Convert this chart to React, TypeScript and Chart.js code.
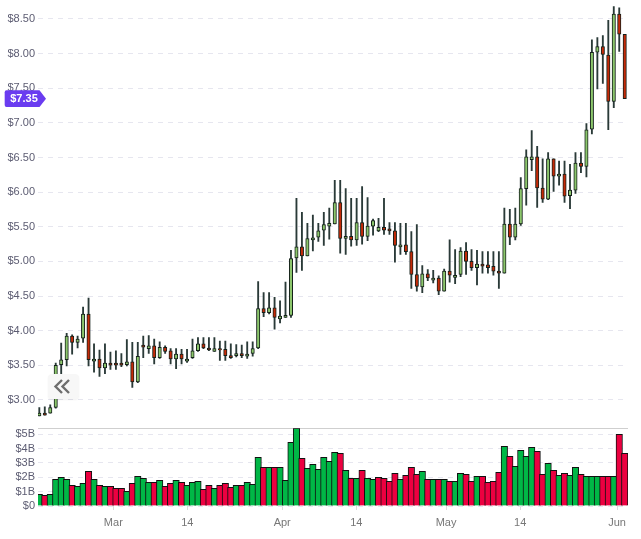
import React, { useEffect, useRef } from "react";
import { Chart, registerables } from "chart.js";

Chart.register(...registerables);

const candleOpen = [
  2.77, 2.81, 2.81, 2.89, 3.51, 3.58, 3.92, 3.83, 3.89, 4.24, 3.56, 3.59, 3.46, 3.53, 3.53, 3.53, 3.51, 3.55,
  3.26, 3.79, 3.74, 3.78, 3.61, 3.76, 3.71, 3.59, 3.66, 3.56, 3.61, 3.71, 3.81, 3.75, 3.70, 3.74, 3.73, 3.64,
  3.64, 3.67, 3.63, 3.67, 3.75, 4.32, 4.26, 4.33, 4.17, 4.19, 4.22, 5.05, 5.21, 5.08, 5.31, 5.35, 5.45, 5.51,
  5.54, 5.85, 5.33, 5.36, 5.31, 5.56, 5.36, 5.51, 5.44, 5.49, 5.47, 5.44, 5.21, 5.24, 5.14, 4.81, 4.63, 4.82,
  4.73, 4.76, 4.57, 4.86, 4.77, 4.81, 5.15, 5.0, 4.91, 4.96, 4.95, 4.93, 4.86, 4.83, 5.54, 5.35, 5.54, 6.05,
  6.47, 6.51, 6.06, 5.90, 6.48, 6.23, 6.26, 5.95, 6.03, 6.42, 6.37, 6.91, 8.02, 8.10, 7.98, 7.31, 8.57, 8.28,
];
const candleHigh = [
  2.89, 2.90, 2.93, 3.53, 3.82, 3.96, 3.94, 3.92, 4.34, 4.47, 3.81, 3.72, 3.81, 3.69, 3.71, 3.67, 3.87, 3.83,
  3.83, 3.92, 3.93, 3.88, 3.84, 3.78, 3.74, 3.74, 3.73, 3.73, 3.88, 3.90, 3.90, 3.90, 3.90, 3.85, 3.85, 3.81,
  3.80, 3.79, 3.84, 3.84, 4.71, 4.55, 4.55, 4.48, 4.43, 4.70, 5.16, 5.91, 5.71, 5.55, 5.67, 5.55, 5.71, 5.77,
  6.17, 6.17, 6.05, 5.91, 5.91, 6.08, 5.92, 5.61, 5.62, 5.91, 5.56, 5.56, 5.55, 5.55, 5.43, 5.53, 4.94, 4.88,
  4.87, 4.79, 4.89, 5.31, 5.17, 5.20, 5.27, 5.17, 5.16, 5.14, 5.14, 5.14, 5.14, 5.77, 5.75, 5.77, 6.21, 6.61,
  6.89, 6.66, 6.48, 6.57, 6.48, 6.45, 6.45, 6.40, 6.57, 6.57, 6.99, 8.20, 8.23, 8.26, 8.48, 8.68, 8.66, 8.28,
];
const candleLow = [
  2.77, 2.78, 2.81, 2.88, 3.38, 3.49, 3.66, 3.75, 3.83, 3.49, 3.40, 3.34, 3.38, 3.44, 3.44, 3.48, 3.49, 3.18,
  3.25, 3.61, 3.67, 3.52, 3.60, 3.67, 3.52, 3.45, 3.52, 3.54, 3.60, 3.70, 3.74, 3.71, 3.70, 3.57, 3.57, 3.60,
  3.62, 3.61, 3.60, 3.63, 3.74, 4.20, 4.24, 4.02, 4.11, 4.19, 4.19, 4.84, 4.87, 5.08, 5.15, 5.29, 5.23, 5.32,
  5.54, 5.12, 5.10, 5.22, 5.23, 5.25, 5.30, 5.38, 5.43, 5.39, 5.39, 4.99, 5.10, 5.10, 4.61, 4.57, 4.55, 4.72,
  4.69, 4.52, 4.57, 4.70, 4.68, 4.78, 4.81, 4.87, 4.66, 4.83, 4.83, 4.80, 4.61, 4.83, 5.24, 5.31, 5.52, 5.81,
  6.31, 5.78, 5.85, 5.89, 6.01, 6.10, 5.85, 5.76, 5.98, 6.28, 6.22, 6.84, 7.49, 7.57, 6.90, 7.22, 8.03, 7.35,
];
const candleClose = [
  2.81, 2.78, 2.89, 3.50, 3.58, 3.92, 3.83, 3.88, 4.24, 3.58, 3.59, 3.46, 3.53, 3.50, 3.50, 3.50, 3.55, 3.26,
  3.63, 3.76, 3.78, 3.61, 3.76, 3.70, 3.59, 3.66, 3.59, 3.59, 3.71, 3.81, 3.75, 3.72, 3.74, 3.72, 3.64, 3.61,
  3.67, 3.64, 3.66, 3.74, 4.32, 4.26, 4.33, 4.19, 4.21, 4.22, 5.04, 5.21, 5.08, 5.33, 5.34, 5.44, 5.53, 5.55,
  5.85, 5.33, 5.36, 5.31, 5.56, 5.36, 5.51, 5.59, 5.49, 5.45, 5.44, 5.23, 5.24, 5.14, 4.81, 4.64, 4.82, 4.76,
  4.76, 4.57, 4.86, 4.80, 4.80, 5.15, 5.0, 4.91, 4.96, 4.93, 4.91, 4.86, 4.83, 5.54, 5.35, 5.54, 6.05, 6.51,
  6.51, 6.06, 5.90, 6.48, 6.23, 6.26, 5.94, 6.03, 6.42, 6.37, 6.90, 8.02, 8.10, 7.99, 7.31, 8.57, 8.28, 7.35,
];
const volumes = [
  0.81, 0.74, 0.81, 1.86, 2.0, 1.86, 1.44, 1.37, 1.58, 2.42, 1.86, 1.44, 1.37, 1.37, 1.23, 1.23, 1.02, 1.58,
  2.07, 1.93, 1.65, 1.65, 1.79, 1.37, 1.58, 1.79, 1.65, 1.44, 1.65, 1.72, 1.16, 1.44, 1.23, 1.44, 1.58, 1.30,
  1.44, 1.44, 1.65, 1.51, 3.40, 2.70, 2.70, 2.70, 2.70, 1.79, 4.44, 5.42, 3.33, 2.63, 2.91, 2.56, 3.40, 3.12,
  3.74, 3.67, 2.49, 1.93, 1.93, 2.49, 1.93, 1.86, 2.0, 1.93, 1.72, 2.28, 1.86, 2.14, 2.70, 2.21, 2.42, 1.86,
  1.86, 1.86, 1.86, 1.72, 1.72, 2.28, 2.21, 1.72, 2.07, 2.07, 1.65, 1.72, 2.35, 4.16, 3.47, 2.77, 3.88, 3.47,
  4.09, 3.81, 2.21, 2.98, 2.49, 2.14, 2.28, 2.14, 2.70, 2.21, 2.07, 2.07, 2.07, 2.07, 2.07, 2.07, 5.0, 3.67,
];
const volumeUp = [
  1, 0, 1, 1, 1, 1, 0, 1, 1, 0, 1, 0, 1, 0, 0, 0, 1, 0,
  1, 1, 1, 0, 1, 0, 0, 1, 0, 1, 1, 1, 0, 0, 1, 0, 0, 0,
  1, 0, 1, 1, 1, 0, 1, 0, 1, 1, 1, 1, 0, 1, 1, 1, 1, 1,
  1, 0, 1, 0, 1, 0, 1, 1, 0, 0, 0, 0, 1, 0, 0, 0, 1, 0,
  1, 0, 1, 0, 1, 1, 0, 0, 1, 0, 0, 0, 0, 1, 0, 1, 1, 1,
  1, 0, 0, 1, 0, 1, 0, 1, 1, 0, 1, 1, 1, 0, 0, 1, 0, 0,
];
const xTickPositions = [13.53, 27.06, 44.4, 57.95, 74.35, 87.9, 105.6];
const xTickLabels = ["Mar", "14", "Apr", "14", "May", "14", "Jun"];
const priceTicks = [3, 3.5, 4, 4.5, 5, 5.5, 6, 6.5, 7, 7.5, 8, 8.5];
const volumeTicks = [0, 1, 2, 3, 4, 5];
const lastPrice = 7.35;

const FONT = "'Liberation Sans', Arial, sans-serif";
const GRID = "#e6e6ef";

const clearPadding = (s: any) => {
  s.paddingTop = 0;
  s.paddingBottom = 0;
  s.paddingLeft = 0;
  s.paddingRight = 0;
};

const overlay = {
  id: "overlay",
  beforeDatasetsDraw(chart: any) {
    const { ctx, chartArea, scales } = chart;
    const y = Math.round(scales.yVolume.top) + 0.5;
    ctx.save();
    ctx.strokeStyle = "#cfcfcf";
    ctx.lineWidth = 1;
    ctx.beginPath();
    ctx.moveTo(chartArea.left, y);
    ctx.lineTo(chartArea.right, y);
    ctx.stroke();
    ctx.restore();
  },
  afterDraw(chart: any) {
    const { ctx, scales } = chart;
    const y = scales.yPrice.getPixelForValue(lastPrice);
    const h = 8.3;
    ctx.save();
    ctx.fillStyle = "#6a3cf0";
    ctx.beginPath();
    ctx.moveTo(6.5, y - h);
    ctx.lineTo(39.5, y - h);
    ctx.lineTo(46, y);
    ctx.lineTo(39.5, y + h);
    ctx.lineTo(6.5, y + h);
    ctx.quadraticCurveTo(4.7, y + h, 4.7, y + h - 2);
    ctx.lineTo(4.7, y - h + 2);
    ctx.quadraticCurveTo(4.7, y - h, 6.5, y - h);
    ctx.closePath();
    ctx.fill();
    ctx.fillStyle = "#ffffff";
    ctx.font = `bold 11px ${FONT}`;
    ctx.textAlign = "center";
    ctx.textBaseline = "middle";
    ctx.fillText(`$${lastPrice.toFixed(2)}`, 24, y + 0.5);
    ctx.restore();
  },
};

export default function App() {
  const ref = useRef<HTMLCanvasElement | null>(null);

  useEffect(() => {
    if (!ref.current) return;
    const isUp = candleOpen.map((o, i) => candleClose[i] >= o);
    const chart = new Chart(ref.current, {
      type: "bar",
      plugins: [overlay],
      data: {
        datasets: [
          {
            label: "Body",
            order: 0,
            grouped: false,
            xAxisID: "x",
            yAxisID: "yPrice",
            barThickness: 3.4,
            borderWidth: 1,
            borderSkipped: false,
            borderColor: "#14201a",
            backgroundColor: isUp.map((u) => (u ? "#8cc66c" : "#c42a08")),
            data: candleOpen.map((o, i) => ({ x: i, y: [o, candleClose[i]] })),
          },
          {
            label: "Wick",
            order: 1,
            grouped: false,
            xAxisID: "x",
            yAxisID: "yPrice",
            barThickness: 1.2,
            borderWidth: 0,
            backgroundColor: "#2a3a38",
            data: candleHigh.map((h, i) => ({ x: i, y: [candleLow[i], h] })),
          },
          {
            label: "Volume",
            order: 2,
            grouped: false,
            xAxisID: "x",
            yAxisID: "yVolume",
            barThickness: 6.47,
            borderWidth: 1,
            borderColor: "#111111",
            backgroundColor: volumeUp.map((u) => (u ? "#00b746" : "#ec0040")),
            data: volumes.map((v, i) => ({ x: i, y: v })),
          },
        ],
      } as any,
      options: {
        responsive: false,
        animation: false,
        events: [],
        layout: { autoPadding: false, padding: { left: 0, right: 13, top: 0, bottom: 0 } },
        plugins: { legend: { display: false }, tooltip: { enabled: false }, title: { display: false } },
        scales: {
          x: {
            type: "linear",
            offset: false,
            min: -0.24,
            max: 107.6,
            afterBuildTicks: (s: any) => {
              s.ticks = xTickPositions.map((value) => ({ value }));
            },
            afterFit: (s: any) => {
              s.height = 33;
              clearPadding(s);
            },
            grid: { offset: false, drawOnChartArea: false, drawTicks: true, tickLength: 4, color: "#dcdcdc" },
            border: { display: false },
            ticks: {
              autoSkip: false,
              maxRotation: 0,
              padding: 6.5,
              color: "#777777",
              font: { family: FONT, size: 11 },
              callback: (_v: any, i: number) => xTickLabels[i],
            },
          },
          yVolume: {
            type: "linear",
            position: "left",
            stack: "panes",
            stackWeight: 77.7,
            min: 0,
            max: 5.42,
            afterBuildTicks: (s: any) => {
              s.ticks = volumeTicks.map((value) => ({ value }));
            },
            afterFit: (s: any) => {
              s.width = 38;
              clearPadding(s);
            },
            grid: { color: GRID, drawTicks: false },
            border: { display: false, dash: [5, 5] },
            ticks: {
              autoSkip: false,
              padding: 3,
              color: "#5c5c72",
              font: { family: FONT, size: 11 },
              callback: (v: any) => (v === 0 ? "$0" : `$${v}B`),
            },
          },
          yPrice: {
            type: "linear",
            position: "left",
            stack: "panes",
            stackWeight: 428.3,
            min: 2.59,
            max: 8.774,
            afterBuildTicks: (s: any) => {
              s.ticks = priceTicks.map((value) => ({ value }));
            },
            afterFit: (s: any) => {
              s.width = 38;
              clearPadding(s);
            },
            grid: { color: GRID, drawTicks: false },
            border: { display: false, dash: [5, 5] },
            ticks: {
              autoSkip: false,
              padding: 3,
              color: "#5c5c72",
              font: { family: FONT, size: 11 },
              callback: (v: any) => `$${Number(v).toFixed(2)}`,
            },
          },
        },
      } as any,
    });
    return () => chart.destroy();
  }, []);

  return (
    <div style={{ position: "absolute", left: 0, top: 0, width: 641, height: 539, background: "#fff" }}>
      <canvas ref={ref} width={641} height={539} style={{ display: "block" }} />
      <div
        style={{
          position: "absolute",
          left: 48,
          top: 374,
          width: 31,
          height: 25,
          borderRadius: 4,
          background: "#f7f7f7",
          boxShadow: "0 1px 2px rgba(0,0,0,0.06)",
        }}
      >
        <svg width={31} height={25} style={{ display: "block" }}>
          <path d="M14 6 L7.5 12.5 L14 19 M21 6 L14.5 12.5 L21 19" fill="none" stroke="#6e6e6e" strokeWidth={2.4} />
        </svg>
      </div>
    </div>
  );
}
